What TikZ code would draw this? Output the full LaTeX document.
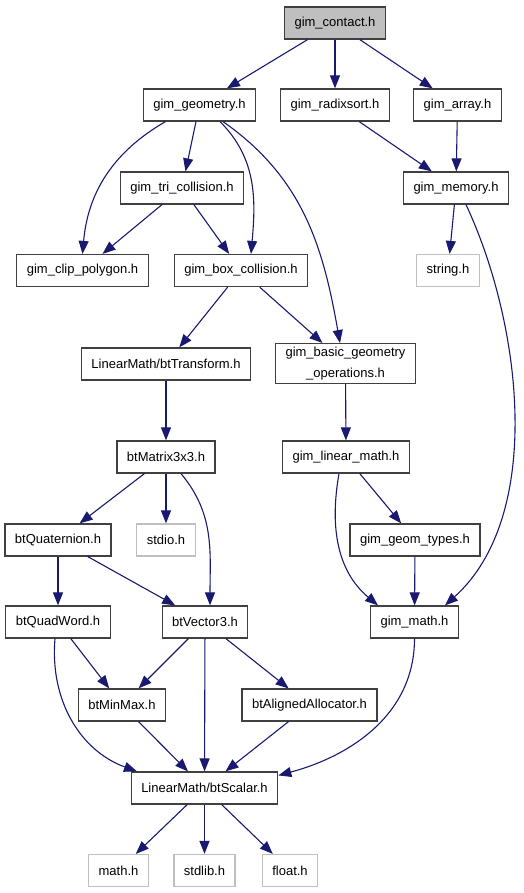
\documentclass[tikz,border=0pt]{standalone}
\usepackage{fontspec}
\setmainfont{Liberation Sans}
\usetikzlibrary{arrows.meta}
\definecolor{edgeblue}{RGB}{25,25,112}
\definecolor{boxgray}{RGB}{191,191,191}
\definecolor{framegray}{RGB}{64,64,64}

\begin{document}
\begin{tikzpicture}[x=1pt, y=1pt, >={Triangle[length=13pt,width=10pt]},
    file/.style={rectangle, draw=framegray, line width=1.2pt, fill=white,
      minimum height=32pt, inner xsep=10pt, align=center,
      font=\fontsize{13}{21}\selectfont},
    sysfile/.style={draw=boxgray},
    current/.style={fill=boxgray}]
  \useasboundingbox (0,0) rectangle (524,-893);
  \begin{scope}[every node/.style={file}]
    \node[current] (contact) at (335,-23) {gim\_contact.h};
    \node (geometry) at (199.5,-105) {gim\_geometry.h};
    \node (radixsort) at (335,-105) {gim\_radixsort.h};
    \node (array) at (457.5,-105) {gim\_array.h};
    \node (tricoll) at (182,-188) {gim\_tri\_collision.h};
    \node (memory) at (456,-188) {gim\_memory.h};
    \node (clippoly) at (82.5,-270.5) {gim\_clip\_polygon.h};
    \node (boxcoll) at (241,-270.5) {gim\_box\_collision.h};
    \node[sysfile] (stringh) at (448,-270.5) {string.h};
    \node (basicgeom) at (345.5,-363.5) {gim\_basic\_geometry\\\_operations.h};
    \node (transform) at (166,-364) {LinearMath/btTransform.h};
    \node (matrix) at (166,-457) {btMatrix3x3.h};
    \node (linmath) at (346,-457) {gim\_linear\_math.h};
    \node (quaternion) at (58,-540) {btQuaternion.h};
    \node[sysfile] (stdioh) at (166,-540) {stdio.h};
    \node (geomtypes) at (415,-540) {gim\_geom\_types.h};
    \node (quadword) at (58,-622) {btQuadWord.h};
    \node (vector) at (205,-622) {btVector3.h};
    \node (gimmath) at (414.5,-622) {gim\_math.h};
    \node (minmax) at (122,-705) {btMinMax.h};
    \node (aligned) at (309.5,-705) {btAlignedAllocator.h};
    \node (scalar) at (204.5,-788) {LinearMath/btScalar.h};
    \node[sysfile] (mathh) at (118.5,-870.5) {math.h};
    \node[sysfile] (stdlibh) at (204.5,-870.5) {stdlib.h};
    \node[sysfile] (floath) at (290,-870.5) {float.h};
  \end{scope}
  \begin{scope}[every edge/.style={draw=edgeblue, line width=1.1pt}]
    \path[->] (contact) edge (geometry);
    \path[->] (contact) edge (radixsort);
    \path[->] (contact) edge (array);
    \path[->] ([xshift=-34pt]geometry.south) edge[out=-150, in=85] (clippoly.north);
    \path[->] (geometry) edge (tricoll);
    \path[->] ([xshift=20.5pt]geometry.south) edge[out=-45, in=85] ([xshift=10pt]boxcoll.north);
    \path[->] ([xshift=23.5pt]geometry.south) edge[out=-35, in=100] ([xshift=-5.5pt]basicgeom.north);
    \path[->] (radixsort) edge (memory);
    \path[->] (array) edge (memory);
    \path[->] (tricoll) edge (clippoly);
    \path[->] (tricoll) edge (boxcoll);
    \path[->] (memory) edge (stringh);
    \path[->] ([xshift=10pt]memory.south) edge[out=-65, in=42, looseness=0.85] ([xshift=30.5pt]gimmath.north);
    \path[->] (boxcoll) edge (transform);
    \path[->] (boxcoll) edge (basicgeom);
    \path[->] (transform) edge (matrix);
    \path[->] (basicgeom) edge (linmath);
    \path[->] (matrix) edge (quaternion);
    \path[->] (matrix) edge (stdioh);
    \path[->] ([xshift=15pt]matrix.south) edge[out=-50, in=90] ([xshift=5pt]vector.north);
    \path[->] (quaternion) edge (quadword);
    \path[->] (quaternion) edge (vector);
    \path[->] ([xshift=-7pt]linmath.south) edge[out=-100, in=140] ([xshift=-36.5pt]gimmath.north);
    \path[->] (linmath) edge (geomtypes);
    \path[->] (geomtypes) edge (gimmath);
    \path[->] (quadword) edge (minmax);
    \path[->] ([xshift=-3pt]quadword.south) edge[out=-95, in=160] ([xshift=-67.5pt]scalar.north);
    \path[->] (vector) edge (minmax);
    \path[->] (vector) edge (scalar);
    \path[->] (vector) edge (aligned);
    \path[->] (minmax) edge (scalar);
    \path[->] (aligned) edge (scalar);
    \path[->] (gimmath.south) edge[out=-90, in=15] ([yshift=-4pt]scalar.north east);
    \path[->] (scalar) edge (mathh);
    \path[->] (scalar) edge (stdlibh);
    \path[->] (scalar) edge (floath);
  \end{scope}
\end{tikzpicture}
\end{document}
